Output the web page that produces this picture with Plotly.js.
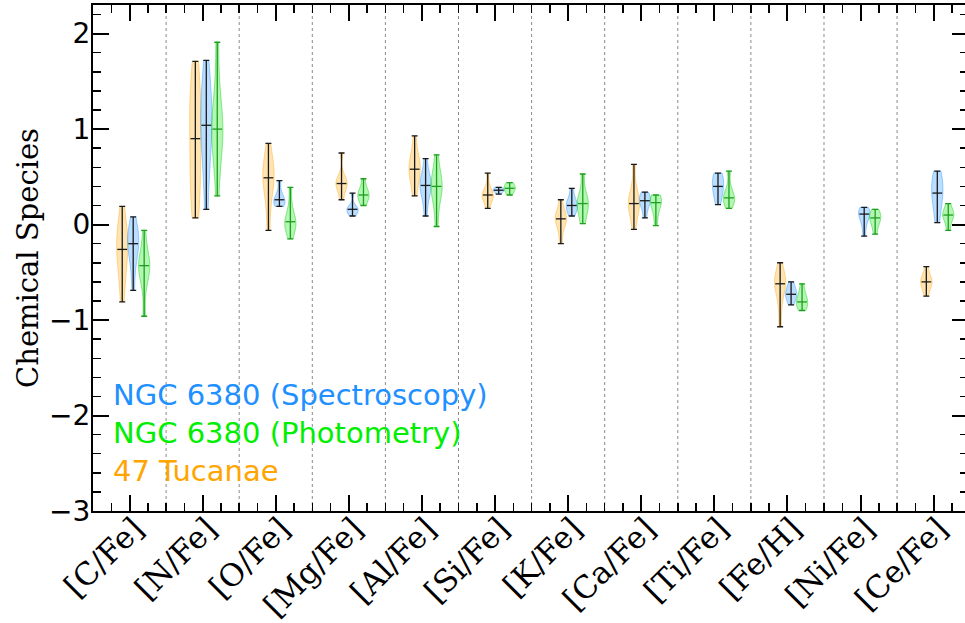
<!DOCTYPE html>
<html>
<head>
<meta charset="utf-8">
<script src="https://cdn.plot.ly/plotly-3.0.1.min.js"></script>
<style>html,body{margin:0;padding:0;overflow:hidden;background:#fff}#chart{overflow:hidden}</style>
</head>
<body>
<div id="chart" style="width:965px;height:623px"></div>
<script>
// ---------------- data ----------------
const categories = ['[C/Fe]', '[N/Fe]', '[O/Fe]', '[Mg/Fe]', '[Al/Fe]', '[Si/Fe]',
                    '[K/Fe]', '[Ca/Fe]', '[Ti/Fe]', '[Fe/H]', '[Ni/Fe]', '[Ce/Fe]'];

// 47 Tucanae samples per species
const tuc47 = [
  [0.19, 0.02, -0.08, -0.12, -0.18, -0.26, -0.30, -0.38, -0.50, -0.62, -0.81],
  [1.71, 1.45, 1.30, 1.22, 1.15, 0.90, 0.70, 0.55, 0.40, 0.25, 0.07],
  [0.85, 0.68, 0.60, 0.55, 0.49, 0.45, 0.35, 0.20, -0.06],
  [0.75, 0.52, 0.47, 0.45, 0.43, 0.41, 0.38, 0.33, 0.26],
  [0.93, 0.75, 0.68, 0.63, 0.58, 0.55, 0.50, 0.42, 0.30],
  [0.54, 0.40, 0.35, 0.32, 0.31, 0.29, 0.27, 0.23, 0.17],
  [0.26, 0.15, 0.11, 0.08, 0.06, 0.04, 0.00, -0.07, -0.20],
  [0.63, 0.40, 0.30, 0.26, 0.22, 0.20, 0.15, 0.07, -0.05],
  null,
  [-0.40, -0.52, -0.56, -0.59, -0.62, -0.66, -0.72, -0.85, -1.07],
  null,
  [-0.44, -0.52, -0.56, -0.58, -0.60, -0.62, -0.65, -0.69, -0.75]
];

// NGC 6380 spectroscopy samples per species
const ngcSpec = [
  [0.08, -0.05, -0.10, -0.14, -0.20, -0.25, -0.32, -0.45, -0.69],
  [1.72, 1.45, 1.30, 1.18, 1.04, 0.95, 0.80, 0.55, 0.16],
  [0.46, 0.33, 0.27, 0.26, 0.23, 0.21, 0.19],
  [0.33, 0.20, 0.17, 0.16, 0.14, 0.12, 0.09],
  [0.69, 0.55, 0.48, 0.44, 0.41, 0.38, 0.33, 0.25, 0.09],
  [0.39, 0.37, 0.36, 0.35, 0.32],
  [0.38, 0.27, 0.23, 0.20, 0.18, 0.14, 0.09],
  [0.34, 0.30, 0.27, 0.25, 0.22, 0.17, 0.07],
  [0.54, 0.50, 0.46, 0.40, 0.36, 0.30, 0.21],
  [-0.60, -0.66, -0.70, -0.73, -0.75, -0.78, -0.84],
  [0.18, 0.15, 0.13, 0.11, 0.07, 0.01, -0.12],
  [0.56, 0.47, 0.42, 0.33, 0.28, 0.18, 0.02]
];

// NGC 6380 photometry samples per species
const ngcPhot = [
  [-0.06, -0.25, -0.35, -0.40, -0.43, -0.48, -0.53, -0.65, -0.96],
  [1.91, 1.45, 1.20, 1.08, 1.00, 0.93, 0.82, 0.65, 0.30],
  [0.39, 0.20, 0.10, 0.05, 0.03, 0.00, -0.03, -0.07, -0.15],
  [0.48, 0.38, 0.34, 0.31, 0.29, 0.26, 0.20],
  [0.73, 0.58, 0.48, 0.43, 0.40, 0.36, 0.30, 0.18, -0.02],
  [0.44, 0.40, 0.38, 0.36, 0.31],
  [0.53, 0.32, 0.26, 0.22, 0.18, 0.12, 0.01],
  [0.31, 0.28, 0.26, 0.23, 0.20, 0.12, -0.01],
  [0.56, 0.38, 0.31, 0.28, 0.26, 0.23, 0.17],
  [-0.62, -0.72, -0.77, -0.81, -0.83, -0.86, -0.90],
  [0.16, 0.12, 0.09, 0.07, 0.04, -0.01, -0.10],
  [0.22, 0.15, 0.12, 0.10, 0.08, 0.03, -0.06]
];

const legendLabels = ['NGC 6380 (Spectroscopy)', 'NGC 6380 (Photometry)', '47 Tucanae'];

// ---------------- styling ----------------
const series = [
  {key: 'tuc',  data: tuc47,   offset: -0.10, fill: 'rgba(255,165,0,0.30)',  edge: 'rgba(255,165,0,0.40)',  whisk: '#1a1a1a'},
  {key: 'spec', data: ngcSpec, offset:  0.05, fill: 'rgba(30,144,255,0.30)', edge: 'rgba(30,144,255,0.40)', whisk: '#1a1a1a'},
  {key: 'phot', data: ngcPhot, offset:  0.20, fill: 'rgba(0,230,0,0.30)',    edge: 'rgba(0,200,0,0.40)',    whisk: '#1f9e1f'}
];
const legendColors = ['#1E90FF', '#00EE00', '#FFA500'];

function median(arr) {
  const s = arr.slice().sort((a, b) => a - b);
  const n = s.length;
  return n % 2 ? s[(n - 1) / 2] : (s[n / 2 - 1] + s[n / 2]) / 2;
}

const violinTraces = [];
const whiskerTraces = [];
series.forEach(s => {
  const wx = [], wy = [], up = [], dn = [];
  s.data.forEach((arr, i) => {
    if (!arr) return;
    const pos = i + s.offset;
    violinTraces.push({
      type: 'violin', x: arr.map(() => pos), y: arr,
      width: 0.155, scalemode: 'width', scalegroup: s.key + i, spanmode: 'hard',
      points: false, box: {visible: false}, meanline: {visible: false},
      fillcolor: s.fill, line: {color: s.edge, width: 1},
      hoverinfo: 'skip', showlegend: false
    });
    const med = median(arr);
    wx.push(pos); wy.push(med);
    up.push(Math.max(...arr) - med);
    dn.push(med - Math.min(...arr));
  });
  whiskerTraces.push({
    type: 'scatter', mode: 'markers', x: wx, y: wy,
    marker: {symbol: 'line-ew', size: 7, color: s.whisk, line: {color: s.whisk, width: 1.3}},
    error_y: {type: 'data', symmetric: false, array: up, arrayminus: dn,
              color: s.whisk, thickness: 1.3, width: 3},
    hoverinfo: 'skip', showlegend: false
  });
});

const shapes = [];
for (let i = 0; i < categories.length - 1; i++) {
  shapes.push({type: 'line', xref: 'x', yref: 'paper', x0: i + 0.5, x1: i + 0.5, y0: 0, y1: 1,
               line: {color: '#8a8a8a', width: 1, dash: 'dot'}, layer: 'below'});
}

const annotations = legendLabels.map((t, k) => ({
  xref: 'paper', yref: 'paper', x: 0.021, y: 0.229 - k * 0.075,
  xanchor: 'left', yanchor: 'middle', showarrow: false, text: t,
  font: {family: 'DejaVu Sans', size: 29, color: legendColors[k]}
}));

const layout = {
  width: 968, height: 623,
  margin: {l: 93, r: 0, t: 5, b: 112},
  paper_bgcolor: '#fff', plot_bgcolor: '#fff',
  violinmode: 'overlay',
  showlegend: false,
  shapes: shapes,
  annotations: annotations,
  xaxis: {
    range: [-0.5, 11.47], tickmode: 'array',
    tickvals: categories.map((c, i) => i), ticktext: categories,
    tickangle: -45, ticks: 'inside', ticklen: 16, tickwidth: 2, tickcolor: '#000',
    ticklabelstandoff: -15, ticklabelshift: 5,
    minor: {tickmode: 'linear', tick0: 0, dtick: 0.25, ticks: 'inside', ticklen: 8, tickwidth: 1.5, tickcolor: '#000'},
    showline: true, linewidth: 2, linecolor: '#000', mirror: 'allticks',
    showgrid: false, zeroline: false,
    tickfont: {family: 'DejaVu Serif', size: 31, color: '#000'}
  },
  yaxis: {
    range: [-3, 2.3], tickmode: 'linear', tick0: 0, dtick: 1,
    ticks: 'inside', ticklen: 16, tickwidth: 2, tickcolor: '#000',
    ticklabelstandoff: -5,
    minor: {tickmode: 'linear', tick0: 0, dtick: 0.2, ticks: 'inside', ticklen: 8, tickwidth: 1.5, tickcolor: '#000'},
    showline: true, linewidth: 2, linecolor: '#000', mirror: 'allticks',
    showgrid: false, zeroline: false,
    tickfont: {family: 'DejaVu Sans', size: 28, color: '#000'},
    title: {text: 'Chemical Species', font: {family: 'DejaVu Serif', size: 29, color: '#000'}, standoff: 2}
  }
};

Plotly.newPlot('chart', violinTraces.concat(whiskerTraces), layout, {displayModeBar: false, staticPlot: true});
</script>
</body>
</html>
